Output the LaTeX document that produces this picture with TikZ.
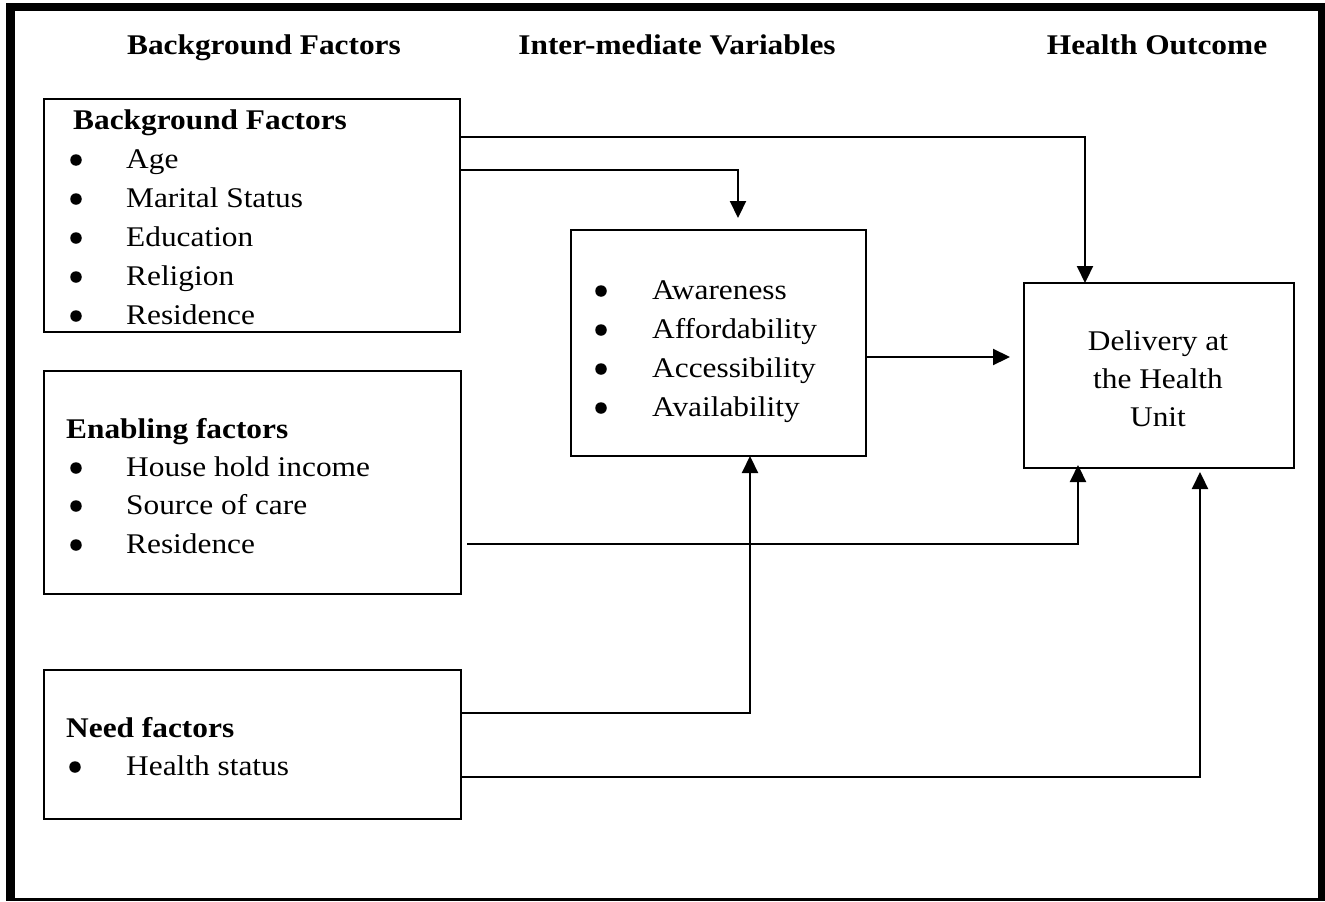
\documentclass[tikz,border=0pt]{standalone}
\usepackage{fontspec}
\setmainfont{Liberation Serif}
\usetikzlibrary{arrows.meta}
\newcommand\hx[1]{\scalebox{1.1}[1]{#1}}
\begin{document}
\begin{tikzpicture}[x=1pt,y=-1pt,
  box/.style={draw,line width=2pt,inner sep=0pt,outer sep=0pt},
  txt/.style={anchor=base west,inner sep=0pt,font=\fontsize{28.5}{34}\selectfont},
  btxt/.style={anchor=base west,inner sep=0pt,font=\fontsize{28.5}{34}\selectfont\bfseries},
  htxt/.style={anchor=base,inner sep=0pt,font=\fontsize{28.5}{34}\selectfont\bfseries},
  ctxt/.style={anchor=base,inner sep=0pt,font=\fontsize{28.5}{34}\selectfont},
  bul/.style={circle,fill,inner sep=0pt,minimum size=11.5pt},
  con/.style={line width=2.2pt},
  arr/.style={con,-{Triangle[length=17pt,width=16pt]}}]
\useasboundingbox (0,0) rectangle (1325,902);
% outer frame
\fill (6,3) rectangle (15,901);
\fill (6,3) rectangle (1325,11);
\fill (1318,3) rectangle (1325,901);
\fill (6,898) rectangle (1325,901);
% headers
\node[htxt] (h1) at (264,54) {\hx{Background Factors}};
\node[htxt] (h2) at (677,54) {\hx{Inter-mediate Variables}};
\node[htxt] (h3) at (1157,54) {\hx{Health Outcome}};
% boxes
\node[box,minimum width=416pt,minimum height=233pt] (b1) at (252,215.5) {};
\node[box,minimum width=417pt,minimum height=223pt] (b2) at (252.5,482.5) {};
\node[box,minimum width=417pt,minimum height=149pt] (b3) at (252.5,744.5) {};
\node[box,minimum width=295pt,minimum height=226pt] (mid) at (718.5,343) {};
\node[box,minimum width=270pt,minimum height=185pt] (del) at (1159,375.5) {};
% box 1 text
\node[btxt] (t10) at (73,129) {\hx{Background Factors}};
\node[bul] (u11) at (76,160) {}; \node[txt] (t11) at (126,168) {\hx{Age}};
\node[bul] (u12) at (76,199) {}; \node[txt] (t12) at (126,207) {\hx{Marital Status}};
\node[bul] (u13) at (76,238) {}; \node[txt] (t13) at (126,246) {\hx{Education}};
\node[bul] (u14) at (76,277) {}; \node[txt] (t14) at (126,285) {\hx{Religion}};
\node[bul] (u15) at (76,316) {}; \node[txt] (t15) at (126,324) {\hx{Residence}};
% box 2 text
\node[btxt] (t20) at (66,438) {\hx{Enabling factors}};
\node[bul] (u21) at (76,468) {}; \node[txt] (t21) at (126,476) {\hx{House hold income}};
\node[bul] (u22) at (76,506) {}; \node[txt] (t22) at (126,514) {\hx{Source of care}};
\node[bul] (u23) at (76,545) {}; \node[txt] (t23) at (126,553) {\hx{Residence}};
% box 3 text
\node[btxt] (t30) at (66,737) {\hx{Need factors}};
\node[bul] (u31) at (75,767) {}; \node[txt] (t31) at (126,775) {\hx{Health status}};
% middle text
\node[bul] (m1) at (601,291) {}; \node[txt] (tm1) at (652,299) {\hx{Awareness}};
\node[bul] (m2) at (601,330) {}; \node[txt] (tm2) at (652,338) {\hx{Affordability}};
\node[bul] (m3) at (601,369) {}; \node[txt] (tm3) at (652,377) {\hx{Accessibility}};
\node[bul] (m4) at (601,408) {}; \node[txt] (tm4) at (652,416) {\hx{Availability}};
% delivery text
\node[ctxt] (d1) at (1158,350) {\hx{Delivery at}};
\node[ctxt] (d2) at (1158,388) {\hx{the Health}};
\node[ctxt] (d3) at (1158,426) {\hx{Unit}};
% helper coordinates
\coordinate (y137) at (0,137);
\coordinate (y170) at (0,170);
\coordinate (y357) at (0,357);
\coordinate (y713) at (0,713);
\coordinate (y777) at (0,777);
\coordinate (x1085) at (1085,0);
\coordinate (x750) at (750,0);
\coordinate (e3) at (1010,357);
\coordinate (e2) at (738,218);
\coordinate (s4) at (467,544);
\coordinate (e4) at (1078,465);
\coordinate (e6) at (1200,472);
% connectors
\draw[arr] (b1.east |- y137) -| (del.north -| x1085);
\draw[arr] (b1.east |- y170) -| (e2);
\draw[arr] (mid.east |- y357) -- (e3);
\draw[arr] (s4) -| (e4);
\draw[arr] (b3.east |- y713) -| (mid.south -| x750);
\draw[arr] (b3.east |- y777) -| (e6);
\end{tikzpicture}
\end{document}
